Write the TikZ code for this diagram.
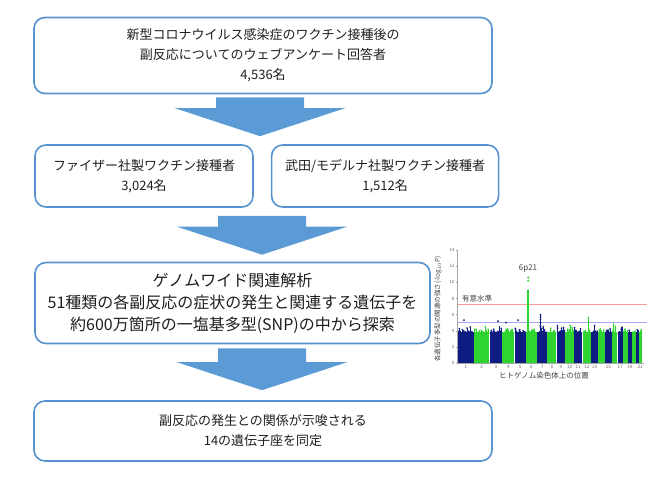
\documentclass[tikz,border=0pt]{standalone}
\usepackage{fontspec}
\setmainfont{Noto Sans CJK JP}
\usetikzlibrary{positioning,calc}

\definecolor{boxblue}{RGB}{88,145,208}
\definecolor{arrowblue}{RGB}{91,155,213}
\definecolor{mhnavy}{RGB}{12,28,128}
\definecolor{mhgreen}{RGB}{48,212,48}

\tikzset{
  stepbox/.style={draw=boxblue, line width=1.6pt, rounded corners=11pt, fill=white,
    align=center, inner sep=0pt, text=black!88, font=\fontsize{13pt}{20pt}\selectfont},
  ticklabel/.style={font=\fontsize{4.5pt}{5pt}\selectfont, text=black!60, inner sep=1pt},
  plotlabel/.style={font=\fontsize{7.5pt}{8pt}\selectfont, text=black!75, inner sep=0pt}
}

% block arrow from #1 (top of stem) down to #2 (tip)
\newcommand{\flowarrow}[2]{%
  \fill[arrowblue] ($(#1)+(-44,0)$) -- ($(#1)+(44,0)$) -- ($(#2)+(44,-28)$)
    -- ($(#2)+(85,-28)$) -- (#2) -- ($(#2)+(-85,-28)$) -- ($(#2)+(-44,-28)$) -- cycle;}

\begin{document}
\begin{tikzpicture}[x=1pt, y=-1pt]
    \useasboundingbox (0,0) rectangle (650,482);

    % Survey respondents
    \node[stepbox, minimum width=458pt, minimum height=76pt] (survey) at (263,55.5)
      {新型コロナウイルス感染症のワクチン接種後の\\副反応についてのウェブアンケート回答者\\4,536名};

    % Vaccine groups
    \node[stepbox, minimum width=218pt, minimum height=62pt] (pfizer) at (144,176)
      {ファイザー社製ワクチン接種者\\3,024名};
    \node[stepbox, minimum width=227pt, minimum height=62pt, right=17pt of pfizer] (moderna)
      {武田/モデルナ社製ワクチン接種者\\1,512名};

    % Genome-wide association study
    \node[stepbox, minimum width=395pt, minimum height=81pt,
      font=\fontsize{16pt}{22pt}\selectfont] (gwas) at (232.5,303)
      {ゲノムワイド関連解析\\51種類の各副反応の症状の発生と関連する遺伝子を\\約600万箇所の一塩基多型(SNP)の中から探索};

    % Result
    \node[stepbox, minimum width=458pt, minimum height=60pt] (result) at (263,431)
      {副反応の発生との関係が示唆される\\14の遺伝子座を同定};

    % Arrows between the steps
    \coordinate (a1) at ($(survey.south)+(-3,3)$);
    \coordinate (a1tip) at ($(survey.south |- pfizer.north)+(-3,-8)$);
    \coordinate (a2) at ($(survey.south |- pfizer.south)+(-1,8)$);
    \coordinate (a2tip) at ($(survey.south |- gwas.north)+(-1,-7)$);
    \coordinate (a3) at ($(survey.south |- gwas.south)+(-1,4)$);
    \coordinate (a3tip) at ($(survey.south |- result.north)+(-1,-10)$);
    \flowarrow{a1}{a1tip}
    \flowarrow{a2}{a2tip}
    \flowarrow{a3}{a3tip}

    % Manhattan plot (value v sits at y = -8.07 v)
    \begin{scope}[shift={(458,363)}]
      % threshold lines
      \draw[red!40, line width=0.5pt] (0,{-8.07*7.3}) -- (189,{-8.07*7.3});
      \draw[blue!35, line width=0.5pt] (0,{-8.07*5}) -- (189,{-8.07*5});
      \node[plotlabel, anchor=south west] (siglbl) at (4,{-8.07*7.3-2}) {有意水準};

      % chromosomes
      \pgfmathsetseed{21}
      \foreach \len [count=\c, remember=\xe as \xs (initially 0)] in
          {249,242,198,190,181,171,159,145,138,134,135,133,114,107,102,90,83,80,59,64,47,51} {
        \pgfmathsetmacro\xe{\xs+0.0641*\len}
        \pgfmathtruncatemacro\nspk{\len/5}
        \ifodd\c \colorlet{chrcol}{mhnavy}\else\colorlet{chrcol}{mhgreen}\fi
        \fill[chrcol] (\xs+0.15,0) rectangle (\xe-0.15,-31);
        \foreach \k in {1,...,\nspk} {
          \pgfmathsetmacro\dx{\xs+0.7+rnd*(\xe-\xs-1.4)}
          \pgfmathsetmacro\dv{3.6+1.4*rnd*rnd*rnd}
          \draw[chrcol, line width=0.9pt] (\dx,-28) -- (\dx,{-8.07*\dv});
          \fill[chrcol] (\dx,{-8.07*\dv}) circle (0.9pt);
        }
        \pgfmathtruncatemacro\showlbl{(\c<14 || \c==15 || \c==17 || \c==19 || \c==22) ? 1 : 0}
        \ifnum\showlbl=1
          \node[ticklabel, below] at ({(\xs+\xe)/2},1) {\c};
        \fi
      }

      % 6p21 peak
      \fill[mhgreen] (69,-28) rectangle (71.4,{-8.07*9.0});
      \foreach \v in {9.0,10.2,10.6}
        \fill[mhgreen] (70.2,{-8.07*\v}) circle (1.1pt);
      \node[plotlabel, font=\fontsize{8pt}{8pt}\selectfont] (peaklbl) at (70,{-8.07*11.7}) {6p21};
      % smaller peaks
      \foreach \v in {4.6,5.0,5.4,5.7,5.95}
        \fill[mhnavy] (82.5,{-8.07*\v}) circle (1pt);
      \draw[mhnavy, line width=1.4pt] (82.5,-28) -- (82.5,{-8.07*5.9});
      \foreach \v in {4.7,5.2,5.6}
        \fill[mhgreen] (130.5,{-8.07*\v}) circle (1pt);
      \draw[mhgreen, line width=1.2pt] (130.5,-28) -- (130.5,{-8.07*5.6});
      \foreach \x/\v in {6/5.3,40/5.2,48/5.0,60/5.3}
        \fill[black!20!mhnavy] (\x,{-8.07*\v}) circle (1pt);

      % axes
      \draw[black!35, line width=0.3pt] (-1,0) -- (-1,{-8.07*14});
      \draw[black!35, line width=0.3pt] (-1,0) -- (186,0);
      \foreach \v in {0,2,...,14} {
        \draw[black!35, line width=0.3pt] (-1,{-8.07*\v}) -- (-2.5,{-8.07*\v});
        \node[ticklabel, left] at (-2.5,{-8.07*\v}) {\v};
      }
      \node[plotlabel] (xlbl) at (86,13) {ヒトゲノム染色体上の位置};
      \node[plotlabel, rotate=90, font=\fontsize{6.5pt}{7pt}\selectfont] (ylbl) at (-20,-54)
        {各遺伝子多型の関連の強さ(-log$_{10}$\textit{P})};
    \end{scope}
\end{tikzpicture}
\end{document}
